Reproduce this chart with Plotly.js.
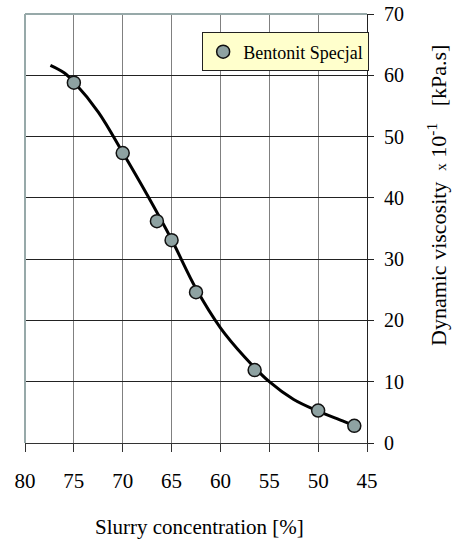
<!DOCTYPE html>
<html>
<head>
<meta charset="utf-8">
<script src="https://cdn.plot.ly/plotly-3.0.1.min.js"></script>
<style>
  html, body { margin: 0; padding: 0; background: #ffffff; }
  #chart { width: 455px; height: 540px; }
</style>
</head>
<body>
<div id="chart"></div>
<script>
// Measured slurry samples: concentration [%] and dynamic viscosity (x 10^-1 kPa.s)
const concentration = [75.0, 70.0, 66.5, 65.0, 62.5, 56.5, 50.0, 46.3];
const viscosity     = [58.8, 47.3, 36.2, 33.1, 24.6, 11.9, 5.3, 2.8];

// Smoothed trend curve through the measurements
const trendConcentration = [77.4, 76.0, 75.0, 72.5, 70.0, 67.5, 65.0, 62.5, 60.0, 57.5, 55.0, 52.5, 50.0, 47.5, 46.3];
const trendViscosity     = [61.6, 60.4, 58.9, 54.0, 47.4, 40.5, 33.2, 25.2, 18.8, 14.0, 10.0, 7.1, 5.2, 3.6, 2.8];

const seriesName = 'Bentonit Specjal';
const xTicks = [80, 75, 70, 65, 60, 55, 50, 45];
const yTicks = [0, 10, 20, 30, 40, 50, 60, 70];

const serif = '"Times New Roman", "Liberation Serif", "DejaVu Serif", Times, serif';
const frameColor = '#97a9a9';

const traces = [
  {
    x: trendConcentration,
    y: trendViscosity,
    mode: 'lines',
    line: { color: '#000000', width: 3, shape: 'spline', smoothing: 1 },
    showlegend: false,
    hoverinfo: 'skip'
  },
  {
    x: concentration,
    y: viscosity,
    mode: 'markers',
    name: seriesName,
    marker: { size: 13, color: '#8ea2a2', line: { color: '#111111', width: 1.5 } }
  }
];

const layout = {
  width: 455,
  height: 540,
  margin: { l: 25, r: 88, t: 14, b: 97 },
  paper_bgcolor: '#ffffff',
  plot_bgcolor: '#ffffff',
  font: { family: serif, color: '#000000' },
  showlegend: true,
  legend: {
    x: 0.518, y: 0.957, xanchor: 'left', yanchor: 'top',
    bgcolor: '#ffffcc', bordercolor: '#222222', borderwidth: 1,
    font: { family: serif, size: 18, color: '#000000' },
    itemwidth: 30, tracegroupgap: 0
  },
  xaxis: {
    range: [80, 45],
    tickvals: xTicks,
    ticktext: xTicks.map(String),
    showgrid: true, gridcolor: '#808080', gridwidth: 1,
    zeroline: false,
    showline: true, linecolor: '#333333', linewidth: 1,
    ticks: 'outside', ticklen: 8, tickcolor: '#333333', tickwidth: 1,
    ticklabelstandoff: 11,
    tickfont: { family: serif, size: 21, color: '#000000' }
  },
  yaxis: {
    side: 'right',
    range: [0, 70],
    tickvals: yTicks,
    ticktext: yTicks.map(String),
    showgrid: true, gridcolor: '#222222', gridwidth: 1,
    zeroline: false,
    showline: true, linecolor: '#222222', linewidth: 1,
    ticks: 'outside', ticklen: 6, tickcolor: '#222222', tickwidth: 1,
    ticklabelstandoff: 6,
    tickfont: { family: serif, size: 20, color: '#000000' }
  },
  shapes: [
    // light frame on the top and left edges of the plot area
    { type: 'line', xref: 'paper', yref: 'paper', x0: 0, x1: 1, y0: 1, y1: 1,
      line: { color: frameColor, width: 2 } },
    { type: 'line', xref: 'paper', yref: 'paper', x0: 0, x1: 0, y0: 0, y1: 1,
      line: { color: frameColor, width: 2 } }
  ],
  annotations: [
    {
      text: 'Slurry concentration [%]',
      xref: 'paper', yref: 'paper', x: 0.51, y: -0.196,
      xanchor: 'center', yanchor: 'middle', showarrow: false,
      font: { family: serif, size: 21, color: '#000000' }
    },
    {
      text: 'Dynamic viscosity&nbsp;&nbsp;<span style="font-size:15px">x</span> 10<sup>-1</sup>&nbsp;&nbsp; [kPa.s]',
      xref: 'paper', yref: 'paper', x: 1.205, y: 0.576,
      xanchor: 'center', yanchor: 'middle', showarrow: false, textangle: -90,
      font: { family: serif, size: 22, color: '#000000' }
    }
  ]
};

Plotly.newPlot('chart', traces, layout, { displayModeBar: false, staticPlot: true });
</script>
</body>
</html>
